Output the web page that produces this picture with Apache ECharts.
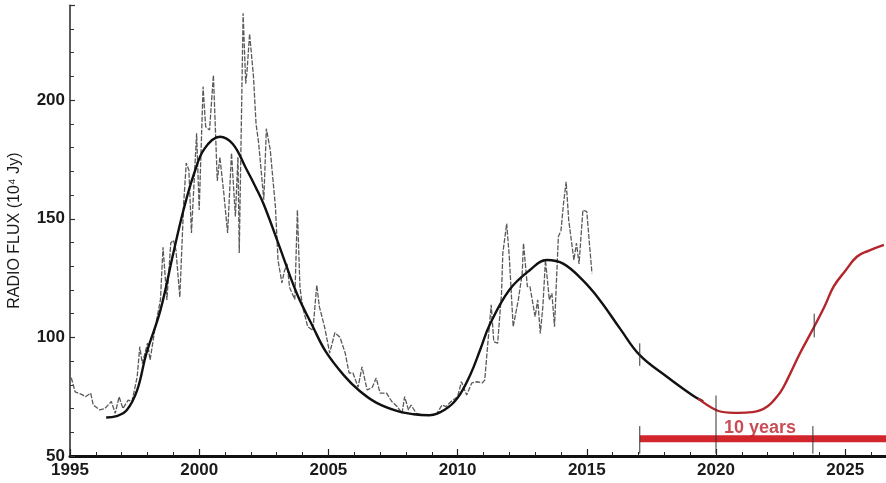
<!DOCTYPE html>
<html><head><meta charset="utf-8">
<script src="https://cdn.jsdelivr.net/npm/echarts@6/dist/echarts.min.js"></script>
<style>html,body{margin:0;padding:0;background:#fff}#c{width:886px;height:483px}</style>
</head><body><div id="c"></div>
<script>
// observed radio flux (noisy trace)
const noisyYears = [1995.05,1995.2,1995.45,1995.6,1995.8,1995.9,1996.15,1996.35,1996.6,1996.75,1996.9,1997.05,1997.25,1997.4,1997.6,1997.7,1997.8,1998.0,1998.1,1998.3,1998.5,1998.6,1998.75,1998.9,1999.0,1999.1,1999.25,1999.4,1999.5,1999.6,1999.7,1999.9,2000.0,2000.15,2000.25,2000.4,2000.55,2000.7,2000.8,2000.95,2001.1,2001.25,2001.4,2001.5,2001.55,2001.7,2001.8,2001.85,2001.95,2002.1,2002.2,2002.3,2002.5,2002.6,2002.75,2002.95,2003.05,2003.2,2003.3,2003.4,2003.5,2003.7,2003.8,2003.9,2004.0,2004.2,2004.4,2004.55,2004.65,2004.85,2005.05,2005.25,2005.45,2005.65,2005.8,2005.95,2006.15,2006.3,2006.5,2006.7,2006.85,2007.0,2007.25,2007.45,2007.65,2007.85,2007.95,2008.1,2008.2,2008.4,2008.65,2008.9,2009.2,2009.4,2009.55,2009.75,2010.0,2010.15,2010.35,2010.55,2010.75,2010.95,2011.05,2011.15,2011.3,2011.4,2011.55,2011.7,2011.75,2011.9,2012.0,2012.15,2012.35,2012.5,2012.55,2012.7,2012.8,2013.0,2013.1,2013.2,2013.3,2013.4,2013.55,2013.65,2013.75,2013.9,2014.0,2014.1,2014.2,2014.3,2014.4,2014.5,2014.6,2014.7,2014.85,2015.0,2015.1,2015.2];
const noisyFlux = [83,77,76,75,76.5,71.5,69.4,70,73,68,75,70,73.6,73,83.4,96,89,97.6,90.5,104.5,115.8,138,115.8,139.8,141,136.8,117,156.6,173.5,170.6,144,186,153.7,205.7,188.8,187.4,210.6,166,176,161,144,177.7,151,176,135.6,236.6,207,212,228,210,190,182,158,188,179,155,132.6,123,128,131,121,116,153.7,121,113,104.5,103,122,113,104.5,93.4,102,100,93.4,85,85,79,87.6,77.8,79,82.9,76.5,76.5,73,71,68,75,69.4,71.5,68,67.3,67.3,68,71.5,70.8,73,75,81.3,75.7,80.8,81.3,80.8,82,95,113.7,98.2,97.6,118.6,135.5,148,134,104.5,115.8,127,139.7,121.4,121.4,108.7,115.8,101.7,113,132.6,115.8,118.6,104.5,142.5,145,156.5,165.6,149.5,141,132.6,139.7,131,153.7,153,139.7,127];
// smoothed cycle fit (black)
const fitYears = [1996.4,1996.8,1997.2,1997.6,1997.95,1998.5,1999.0,1999.4,1999.8,2000.2,2000.8,2001.3,2001.8,2002.2,2002.5,2003.1,2003.77,2004.4,2004.9,2005.6,2006.2,2006.85,2007.65,2008.3,2008.9,2009.5,2010.0,2010.5,2010.87,2011.25,2012.0,2012.8,2013.45,2014.1,2014.85,2015.5,2016.3,2017.05,2018.1,2019.1,2019.5];
const fitFlux = [66.2,66.8,69.4,77.8,93,111.5,135.6,154,169,179.5,184.6,181.5,171.5,163,156,138.5,118.7,104.5,94,84,77.5,72.5,69,67.6,67.2,69.5,74.5,84.5,94.7,105.5,120,128.4,132.6,131,124,115.8,103.5,92.5,83.4,75.5,73];
// predicted next cycle (red)
const predYears = [2019.3,2020.0,2020.5,2020.9,2021.4,2021.7,2022.0,2022.2,2022.5,2022.75,2023.25,2023.8,2024.2,2024.55,2025.0,2025.45,2025.9,2026.5];
const predFlux = [74.3,69.4,68.3,68.2,68.5,69.2,71,73,77,82,93.3,104.5,113,121.4,128,134,136.5,139];
// "10 years" bar and its marks
const barStart = 2017.05, barEnd = 2030, barLevel = 57.3;
const markYears = [2017.05, 2020.0, 2023.75, 2017.05, 2023.8];
const markLow = [51, 51, 51, 88, 100];
const markHigh = [62.6, 75.5, 62.6, 97.5, 110];
const barLabel = '10 years';
const barLabelPos = [2021.7, 61.8];
const xTicks = [1995, 2000, 2005, 2010, 2015, 2020, 2025];
const yTicks = [50, 100, 150, 200];

const zip = (a, b) => a.map((v, i) => [v, b[i]]);
const FONT = 'Liberation Sans, Arial, sans-serif';
const chart = echarts.init(document.getElementById('c'));
const series = [
  { type: 'line', data: zip(noisyYears, noisyFlux), symbol: 'none',
    lineStyle: { color: '#5a5a5a', width: 1.3, type: [5, 1.5] }, z: 2 },
  { type: 'line', data: zip(fitYears, fitFlux), symbol: 'none', smooth: 0.4,
    lineStyle: { color: '#111', width: 2.4 }, z: 3 },
  { type: 'line', data: zip(predYears, predFlux), symbol: 'none', smooth: 0.4,
    lineStyle: { color: '#b3262c', width: 2.4 }, z: 4 },
  { type: 'line', data: [[barStart, barLevel], [barEnd, barLevel]], symbol: 'none',
    lineStyle: { color: '#d3262c', width: 7 }, z: 4 },
  { type: 'scatter', data: [barLabelPos], symbolSize: 0, z: 6,
    label: { show: true, formatter: barLabel, position: 'inside', color: '#bb1e28',
      fontFamily: FONT, fontWeight: 'bold', fontSize: 18 } }
];
markYears.forEach((x, i) => {
  series.push({ type: 'line', data: [[x, markLow[i]], [x, markHigh[i]]], symbol: 'none',
    lineStyle: { color: '#333', width: 1 }, z: 5 });
});
chart.setOption({
  animation: false,
  backgroundColor: '#fff',
  grid: { left: 70, top: 5.3, height: 450.7, width: 35 * 25.84, outerBoundsMode: 'none', containLabel: false },
  xAxis: {
    type: 'value', min: 1995, max: 2030, interval: 5,
    axisLine: { lineStyle: { color: '#111', width: 3 } },
    axisTick: { inside: true, length: 7, lineStyle: { color: '#222', width: 1.2 } },
    minorTick: { show: true, splitNumber: 5, length: 4, lineStyle: { color: '#222', width: 1 } },
    splitLine: { show: false },
    axisLabel: { color: '#1a1a1a', fontSize: 17, fontWeight: 'bold', fontFamily: FONT, margin: 6,
      formatter: v => xTicks.includes(v) ? String(v) : '' }
  },
  yAxis: {
    type: 'value', min: 50, max: 240, interval: 50,
    name: 'RADIO FLUX (10⁴ Jy)', nameLocation: 'middle', nameGap: 47, nameRotate: 90,
    nameTextStyle: { color: '#1a1a1a', fontSize: 16, fontFamily: FONT },
    axisLine: { lineStyle: { color: '#333', width: 1.6 } },
    axisTick: { inside: true, length: 5, lineStyle: { color: '#333', width: 1.2 } },
    minorTick: { show: true, splitNumber: 5, length: 4, lineStyle: { color: '#333', width: 1 } },
    splitLine: { show: false },
    axisLabel: { color: '#1a1a1a', fontSize: 17, fontWeight: 'bold', fontFamily: FONT, margin: 5,
      formatter: v => yTicks.includes(v) ? String(v) : '' }
  },
  series: series
});
</script></body></html>
